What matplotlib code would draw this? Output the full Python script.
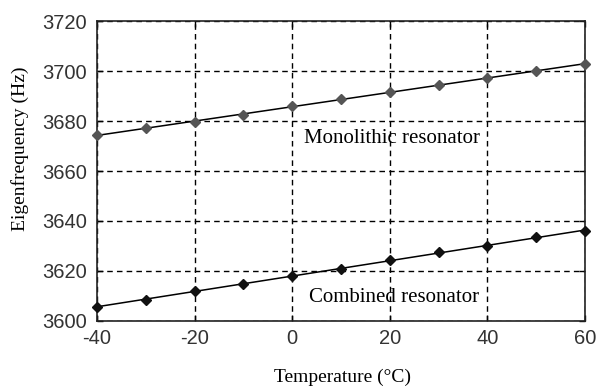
import numpy as np
import matplotlib
matplotlib.use("Agg")
import matplotlib.pyplot as plt

temps = [-40, -30, -20, -10, 0, 10, 20, 30, 40, 50, 60]
monolithic = [3674.4, 3677.1, 3679.7, 3682.4, 3686.0, 3688.9, 3691.7, 3694.4, 3697.1, 3700.1, 3702.8]
combined = [3605.7, 3608.4, 3612.1, 3614.8, 3618.1, 3620.8, 3624.4, 3627.5, 3630.0, 3633.5, 3636.1]

xticks = [-40, -20, 0, 20, 40, 60]
yticks = [3600, 3620, 3640, 3660, 3680, 3700, 3720]

fig = plt.figure(figsize=(5.97, 3.9), dpi=100)
ax = fig.add_axes([0.1625, 0.177, 0.8175, 0.769])

t = np.array(temps)
for vals, mcol in [(monolithic, '#555555'), (combined, '#111111')]:
    # straight fitted line plus measured points
    p = np.polyfit(t, vals, 1)
    ax.plot(t, np.polyval(p, t), color='black', lw=1.1, zorder=3)
    ax.plot(t, vals, linestyle='none', marker='D', ms=5.5, color=mcol, zorder=4, clip_on=False)

ax.set_xlim(-40, 60)
ax.set_ylim(3600, 3720)
ax.set_xticks(xticks)
ax.set_yticks(yticks)
ax.set_xticklabels([str(v) for v in xticks], fontfamily='Liberation Sans', fontsize=14.5, color='#333333')
ax.set_yticklabels([str(v) for v in yticks], fontfamily='Liberation Sans', fontsize=14.5, color='#333333')
ax.tick_params(direction='in', length=4, width=1, color='black', top=True, right=True)
ax.tick_params(axis='y', pad=7)
ax.tick_params(axis='x', pad=6)
ax.grid(True, color='black', linestyle=(0, (4, 3)), lw=1)
for s in ax.spines.values():
    s.set_linewidth(1.2)
    s.set_color('#222222')

ax.text(2.5, 3673.0, 'Monolithic resonator', fontfamily='Liberation Serif', fontsize=15, ha='left', va='center')
ax.text(3.4, 3609.5, 'Combined resonator', fontfamily='Liberation Serif', fontsize=15, ha='left', va='center')

fig.text(342 / 597, 1 - 377 / 390, 'Temperature (°C)', fontfamily='Liberation Serif', fontsize=14, ha='center', va='center')
fig.text(20 / 597, 1 - 149 / 390, 'Eigenfrequency (Hz)', fontfamily='Liberation Serif', fontsize=14, ha='center', va='center', rotation=90)

fig.savefig('out.png', dpi=100)
